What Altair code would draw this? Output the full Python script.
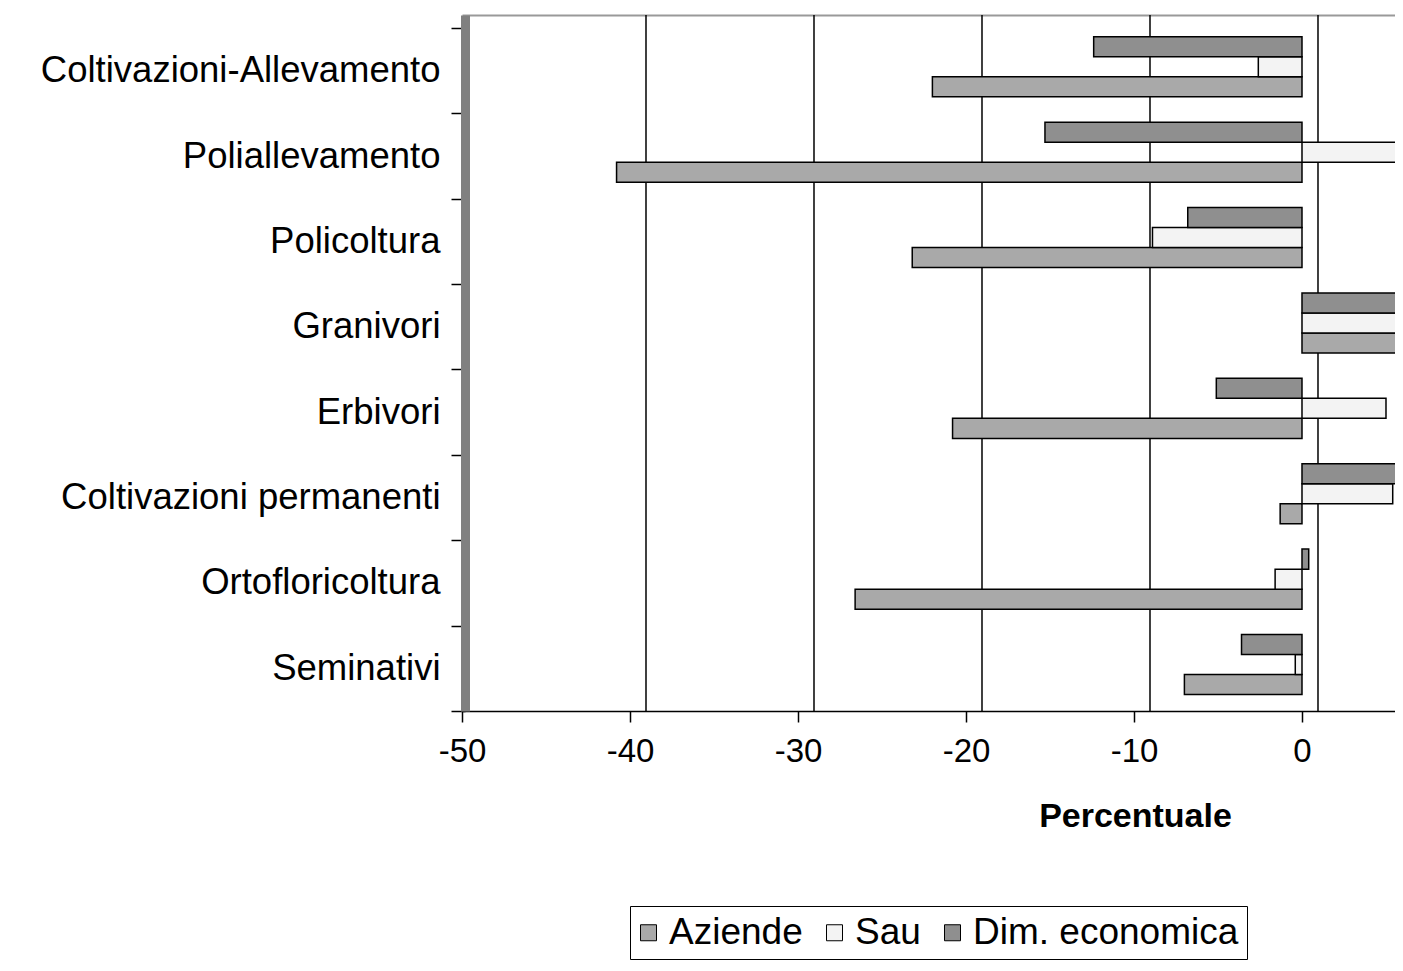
import altair as alt
import pandas as pd

categories = [
    "Coltivazioni-Allevamento",
    "Poliallevamento",
    "Policoltura",
    "Granivori",
    "Erbivori",
    "Coltivazioni permanenti",
    "Ortofloricoltura",
    "Seminativi",
]
series = ["Aziende", "Sau", "Dim. economica"]
aziende = [-22.0, -40.8, -23.2, 9.0, -20.8, -1.3, -26.6, -7.0]
sau = [-2.6, 12.0, -8.9, 11.0, 5.0, 5.4, -1.6, -0.4]
dim_economica = [-12.4, -15.3, -6.8, 14.0, -5.1, 8.5, 0.4, -3.6]
x_ticks = [-50, -40, -30, -20, -10, 0]
grid_ticks = [-40, -30, -20, -10, 0]

rows = []
for i, c in enumerate(categories):
    rows.append({"Tipo": c, "Serie": "Aziende", "Valore": aziende[i]})
    rows.append({"Tipo": c, "Serie": "Sau", "Valore": sau[i]})
    rows.append({"Tipo": c, "Serie": "Dim. economica", "Valore": dim_economica[i]})
df = pd.DataFrame(rows)
grid_df = pd.DataFrame({"Valore": grid_ticks})

FONT = "Liberation Sans"
x_scale = alt.Scale(domain=[-50, 5.536], nice=False, zero=False)

top_axis = alt.Axis(
    orient="top",
    labels=False,
    ticks=False,
    grid=False,
    title=None,
    domainColor="#999999",
    domainWidth=2,
)

bottom_axis = alt.Axis(
    orient="bottom",
    values=x_ticks,
    grid=False,
    labelExpr="datum.value + ''",
    labelFlush=False,
    labelFont=FONT,
    labelFontSize=33,
    labelColor="black",
    labelPadding=13,
    tickSize=11,
    tickColor="black",
    tickWidth=1.5,
    domainColor="black",
    domainWidth=1.5,
    title="Percentuale",
    titleFont=FONT,
    titleFontSize=34,
    titleFontWeight="bold",
    titleColor="black",
    titleX=673,
    titleY=115,
    titleBaseline="alphabetic",
    titleAlign="center",
)

grid = alt.Chart(grid_df).mark_rule(color="black", strokeWidth=1.5, xOffset=16).encode(
    x=alt.X("Valore:Q", scale=x_scale, axis=top_axis)
)

bars = alt.Chart(df).mark_bar(stroke="black", strokeWidth=1.5, clip=True).encode(
    y=alt.Y(
        "Tipo:N",
        sort=categories,
        scale=alt.Scale(paddingInner=0, paddingOuter=0.076, align=1),
        axis=alt.Axis(
            title=None,
            tickBand="extent",
            labelFont=FONT,
            labelFontSize=36.5,
            labelColor="black",
            labelPadding=11,
            labelLimit=1000,
            labelOffset=0,
            tickSize=14,
            tickColor="black",
            tickWidth=1.5,
            domainColor="#808080",
            domainWidth=9,
            offset=-3,
        ),
    ),
    yOffset=alt.YOffset(
        "Serie:N",
        sort=["Dim. economica", "Sau", "Aziende"],
        scale=alt.Scale(paddingInner=0, paddingOuter=0.634, align=0.35),
    ),
    x=alt.X("Valore:Q", scale=x_scale, axis=bottom_axis),
    color=alt.Color(
        "Serie:N",
        scale=alt.Scale(domain=series, range=["#a9a9a9", "#f3f3f3", "#8f8f8f"]),
        legend=alt.Legend(
            title=None,
            orient="none",
            legendX=168,
            legendY=891,
            direction="horizontal",
            symbolType="square",
            symbolSize=256,
            symbolStrokeColor="black",
            symbolStrokeWidth=1,
            symbolOffset=-8,
            labelFont=FONT,
            labelFontSize=37,
            labelColor="black",
            labelOffset=2,
            labelLimit=1000,
            columnPadding=21,
            padding=8,
            strokeColor="black",
            fillColor="white",
        ),
    ),
)

chart = (
    alt.layer(grid, bars)
    .resolve_axis(x="independent")
    .properties(
        width=933,
        height=696,
        autosize=alt.AutoSizeParams(type="none"),
        padding={"left": 454, "top": 7, "right": 0, "bottom": 252},
        background="white",
    )
    .configure_view(stroke=None)
)

chart.save("out.html", embed_options={"renderer": "svg", "actions": False})
